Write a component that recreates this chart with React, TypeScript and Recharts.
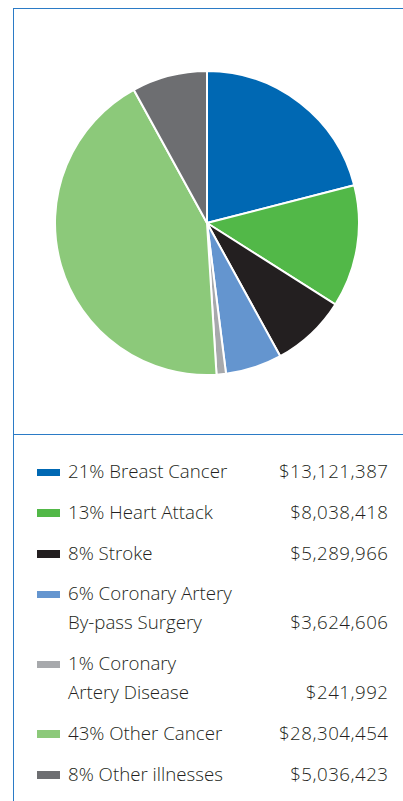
import React from "react";
import { PieChart, Pie, Cell } from "recharts";

const categories = [
  "Breast Cancer",
  "Heart Attack",
  "Stroke",
  "Coronary Artery By-pass Surgery",
  "Coronary Artery Disease",
  "Other Cancer",
  "Other illnesses",
];
const percents = [21, 13, 8, 6, 1, 43, 8];
const amountLabels = [
  "$13,121,387",
  "$8,038,418",
  "$5,289,966",
  "$3,624,606",
  "$241,992",
  "$28,304,454",
  "$5,036,423",
];
const legendLines = [
  ["21% Breast Cancer"],
  ["13% Heart Attack"],
  ["8% Stroke"],
  ["6% Coronary Artery", "By-pass Surgery"],
  ["1% Coronary", "Artery Disease"],
  ["43% Other Cancer"],
  ["8% Other illnesses"],
];
const colors = ["#0068b3", "#52b848", "#231f20", "#6495cf", "#a7a9ac", "#8cc97a", "#6d6e71"];

const data = categories.map((name, i) => ({ name, value: percents[i] }));

const FRAME = "#2b7bc6";
const FONT = "'Open Sans', 'Noto Sans', sans-serif";
const TEXT = "#231f20";

export default function App() {
  return (
    <div
      style={{
        position: "absolute",
        left: 0,
        top: 0,
        width: 403,
        height: 801,
        background: "#fff",
        overflow: "hidden",
        fontFamily: FONT,
      }}
    >
      <div style={{ position: "absolute", left: 13, top: 7.5, width: 390, height: 1.5, background: FRAME }} />
      <div style={{ position: "absolute", left: 12.5, top: 7.5, width: 1.5, height: 794, background: FRAME }} />
      <div style={{ position: "absolute", left: 13, top: 433.5, width: 390, height: 1.5, background: FRAME }} />
      <div style={{ position: "absolute", left: 0, top: 0 }}>
        <PieChart width={403} height={434} margin={{ top: 0, right: 0, bottom: 0, left: 0 }}>
          <Pie
            data={data}
            dataKey="value"
            nameKey="name"
            cx={207}
            cy={223}
            innerRadius={0}
            outerRadius={152}
            startAngle={90}
            endAngle={-270}
            stroke="#ffffff"
            strokeWidth={2}
            isAnimationActive={false}
          >
            {data.map((d, i) => (
              <Cell key={d.name} fill={colors[i]} />
            ))}
          </Pie>
        </PieChart>
      </div>
      <div style={{ position: "absolute", left: 0, top: 456, width: 403 }}>
        {categories.map((name, i) => (
          <div key={name} style={{ position: "relative", height: legendLines[i].length * 29 + 11.8 }}>
            <div
              style={{
                position: "absolute",
                left: 36.5,
                top: 12.5,
                width: 23,
                height: 7.5,
                background: colors[i],
              }}
            />
            {legendLines[i].map((line, j) => (
              <div
                key={j}
                style={{
                  position: "absolute",
                  left: 68,
                  top: j * 29,
                  height: 29,
                  lineHeight: "29px",
                  fontSize: 18.7,
                  fontWeight: 350,
                  color: TEXT,
                  whiteSpace: "nowrap",
                }}
              >
                {line}
              </div>
            ))}
            <div
              style={{
                position: "absolute",
                right: 403 - 388.5,
                top: (legendLines[i].length - 1) * 29,
                height: 29,
                lineHeight: "29px",
                fontSize: 18.7,
                fontWeight: 350,
                letterSpacing: 0.5,
                color: TEXT,
                whiteSpace: "nowrap",
                textAlign: "right",
              }}
            >
              {amountLabels[i]}
            </div>
          </div>
        ))}
      </div>
    </div>
  );
}
